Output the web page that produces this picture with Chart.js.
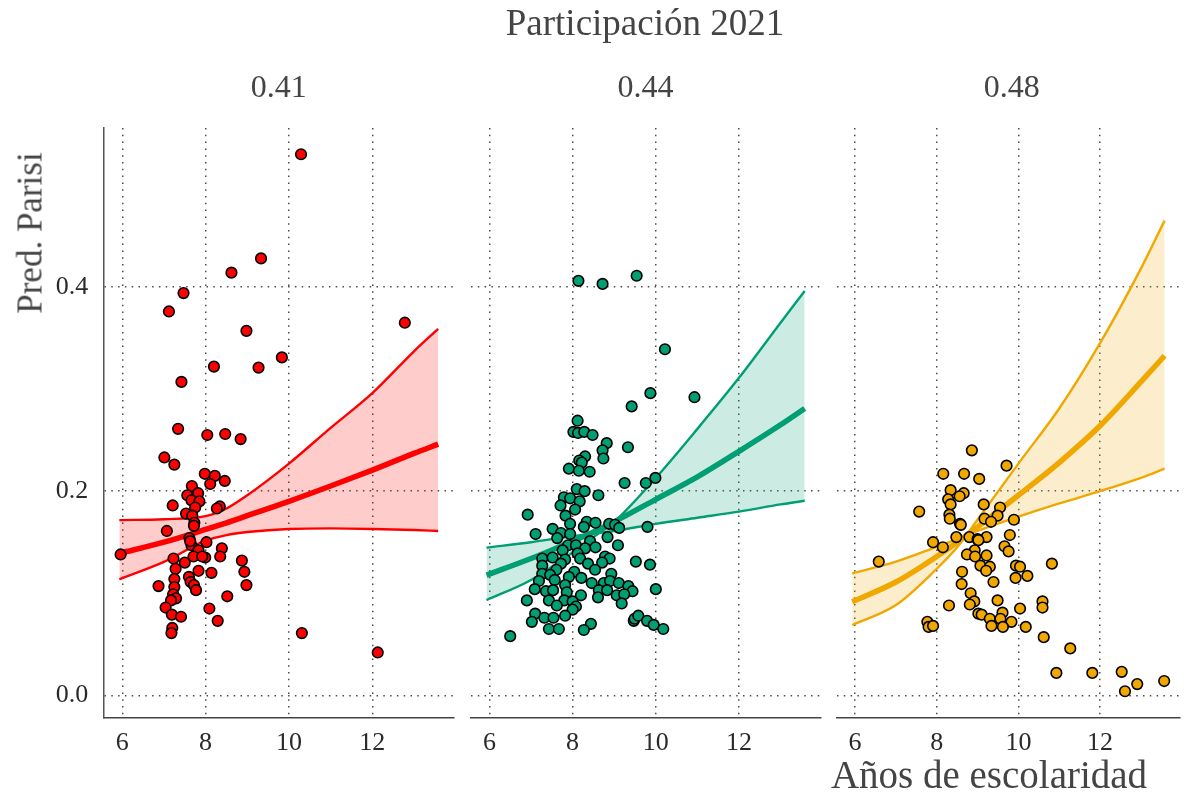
<!DOCTYPE html>
<html>
<head>
<meta charset="utf-8">
<script src="https://cdn.jsdelivr.net/npm/chart.js@4"></script>
<style>
  body { margin: 0; background: #fff; }
  #wrap { position: relative; width: 1187px; height: 795px; font-family: "Liberation Serif", serif; }
  #wrap canvas { position: absolute; left: 0; top: 0; }
  .lbl { position: absolute; line-height: 1; white-space: nowrap; color: #444; }
</style>
</head>
<body>
<div id="wrap">
  <canvas id="c0" width="1187" height="795"></canvas>
  <canvas id="c1" width="1187" height="795"></canvas>
  <canvas id="c2" width="1187" height="795"></canvas>
  <div class="lbl" style="left:645px; top:4px; font-size:37px; transform:translateX(-50%)">Participación 2021</div>
  <div class="lbl" style="left:30px; top:233px; font-size:35px; transform:translate(-50%,-50%) rotate(-90deg)">Pred. Parisi</div>
  <div class="lbl" style="left:989px; top:755px; font-size:39px; transform:translateX(-50%)">Años de escolaridad</div>
</div>
<script>
// axes
const xTicks = [6, 8, 10, 12];
const yTicks = [0, 0.2, 0.4];
const xMin = 5.545, xMax = 13.96;
const yMin = -0.0219, yMax = 0.5557;

const facetLabels = ['0.41', '0.44', '0.48'];
const facetColors = ['#FF0000', '#009E73', '#F0A800'];

// predicted curves, sampled at curveX
const curveX = [5.93, 7, 8, 8.5, 9, 10, 11, 12, 13, 13.58];

const fit41 = [0.139, 0.150, 0.1625, 0.169, 0.176, 0.190, 0.205, 0.2206, 0.237, 0.246];
const bandA41 = [0.1716, 0.1725, 0.1755, 0.183, 0.196, 0.227, 0.262, 0.296, 0.337, 0.359];
const bandB41 = [0.1137, 0.1307, 0.1515, 0.157, 0.160, 0.163, 0.1635, 0.163, 0.162, 0.161];

const fit44 = [0.1178, 0.134, 0.151, 0.160, 0.170, 0.192, 0.214, 0.239, 0.265, 0.281];
const bandA44 = [0.1446, 0.150, 0.156, 0.1585, 0.161, 0.168, 0.174, 0.180, 0.187, 0.1906];
const bandB44 = [0.0933, 0.113, 0.140, 0.155, 0.170, 0.213, 0.261, 0.311, 0.365, 0.396];

const fit48 = [0.0917, 0.111, 0.136, 0.150, 0.165, 0.196, 0.228, 0.264, 0.307, 0.3326];
const bandA48 = [0.1195, 0.131, 0.1455, 0.153, 0.161, 0.175, 0.188, 0.200, 0.213, 0.222];
const bandB48 = [0.0689, 0.0884, 0.124, 0.145, 0.172, 0.227, 0.281, 0.345, 0.418, 0.465];

// observed municipalities
const esc41 = [10.29, 9.33, 8.62, 7.47, 7.12, 12.78, 8.98, 9.83, 8.20, 9.27, 7.42, 7.34, 8.47, 8.04, 8.84,
  7.01, 7.25, 7.98, 8.22, 8.46, 8.11, 7.67, 7.82, 7.56, 7.66, 7.85, 7.21, 8.34, 8.27, 7.75, 7.53, 7.68,
  7.73, 7.72, 7.07, 7.61, 7.66, 8.02, 7.63, 7.83, 5.96, 8.39, 8.35, 7.71, 7.99, 7.92, 7.23, 7.50, 8.87,
  7.28, 7.83, 8.14, 8.93, 7.25, 7.60, 7.64, 7.72, 8.98, 6.87, 7.25, 7.77, 7.22, 7.29, 7.17, 8.52, 7.04,
  7.19, 7.41, 8.09, 8.29, 7.20, 7.18, 10.31, 12.13];
const pred41 = [0.530, 0.428, 0.414, 0.394, 0.376, 0.365, 0.357, 0.331, 0.322, 0.321, 0.307, 0.261, 0.256, 0.255, 0.251,
  0.233, 0.226, 0.217, 0.215, 0.210, 0.207, 0.205, 0.198, 0.196, 0.191, 0.190, 0.186, 0.185, 0.183, 0.184, 0.178, 0.176,
  0.169, 0.166, 0.161, 0.154, 0.147, 0.150, 0.151, 0.142, 0.138, 0.144, 0.136, 0.136, 0.135, 0.136, 0.134, 0.130, 0.132,
  0.124, 0.122, 0.120, 0.121, 0.114, 0.116, 0.111, 0.108, 0.108, 0.107, 0.106, 0.103, 0.099, 0.095, 0.093, 0.097, 0.086,
  0.079, 0.077, 0.085, 0.073, 0.066, 0.061, 0.061, 0.042];

const esc44 = [8.14, 8.72, 9.54, 10.22, 9.87, 10.93, 9.42, 8.12, 8.02, 8.13, 8.28, 8.48, 8.82, 8.72, 9.33,
  8.74, 8.30, 8.16, 8.22, 7.91, 8.15, 8.41, 9.25, 9.76, 9.99, 8.10, 8.29, 8.62, 7.79, 7.94, 8.17, 7.71,
  8.06, 7.83, 6.92, 7.94, 8.34, 8.55, 8.27, 8.88, 9.02, 9.12, 9.80, 7.52, 7.11, 7.72, 7.94, 7.63, 8.84,
  8.42, 7.89, 8.08, 8.55, 9.09, 8.30, 7.76, 8.12, 7.27, 7.52, 7.82, 8.78, 8.89, 8.18, 7.72, 7.27, 8.37,
  8.71, 9.52, 9.86, 7.61, 8.54, 8.04, 7.27, 7.46, 7.91, 8.21, 8.93, 7.19, 7.57, 8.46, 8.75, 8.90, 9.11,
  9.34, 7.82, 7.09, 7.36, 7.53, 7.86, 8.63, 8.83, 9.44, 10.00, 8.20, 9.06, 9.24, 8.61, 7.43, 7.80, 6.90,
  9.18, 8.00, 7.62, 8.08, 8.00, 7.82, 7.10, 7.32, 7.54, 7.02, 7.43, 7.67, 8.44, 8.27, 9.47, 9.49, 9.58,
  9.79, 9.95, 10.18, 6.50];
const pred44 = [0.406, 0.403, 0.411, 0.339, 0.296, 0.292, 0.283, 0.269, 0.258, 0.257, 0.258, 0.255, 0.247, 0.240, 0.243,
  0.232, 0.234, 0.230, 0.228, 0.222, 0.220, 0.219, 0.208, 0.208, 0.213, 0.202, 0.200, 0.196, 0.194, 0.193, 0.190, 0.186,
  0.182, 0.176, 0.177, 0.168, 0.170, 0.169, 0.165, 0.168, 0.167, 0.164, 0.165, 0.163, 0.158, 0.159, 0.158, 0.154, 0.155,
  0.151, 0.147, 0.147, 0.145, 0.147, 0.144, 0.142, 0.139, 0.134, 0.135, 0.133, 0.136, 0.134, 0.134, 0.129, 0.127, 0.129,
  0.130, 0.131, 0.128, 0.123, 0.123, 0.121, 0.119, 0.118, 0.116, 0.115, 0.119, 0.112, 0.113, 0.110, 0.110, 0.112, 0.110,
  0.107, 0.108, 0.104, 0.102, 0.103, 0.101, 0.103, 0.103, 0.102, 0.104, 0.098, 0.098, 0.099, 0.096, 0.093, 0.093, 0.093,
  0.090, 0.092, 0.088, 0.087, 0.084, 0.078, 0.080, 0.076, 0.076, 0.072, 0.065, 0.065, 0.070, 0.064, 0.073, 0.075, 0.078,
  0.073, 0.069, 0.065, 0.058];

const esc48 = [8.86, 9.71, 8.16, 8.67, 9.04, 8.34, 8.66, 8.56, 8.28, 8.34, 9.15, 9.55, 7.57, 8.31, 8.32,
  9.49, 9.17, 9.33, 9.89, 8.57, 8.59, 9.79, 8.48, 8.80, 9.22, 9.00, 9.02, 7.91, 8.15, 9.66, 9.76, 8.93,
  6.58, 8.74, 8.94, 9.22, 10.82, 9.07, 9.30, 9.94, 10.04, 9.21, 8.62, 10.22, 9.93, 9.39, 8.61, 8.83, 8.92,
  9.49, 8.81, 10.59, 8.30, 10.59, 10.04, 9.02, 9.10, 9.61, 9.30, 9.56, 9.83, 7.77, 7.80, 7.91, 9.34, 9.62,
  10.18, 10.62, 11.27, 10.93, 11.81, 12.53, 12.61, 12.91, 13.57];
const pred48 = [0.240, 0.225, 0.217, 0.217, 0.212, 0.201, 0.198, 0.195, 0.192, 0.187, 0.187, 0.184, 0.180, 0.177, 0.173,
  0.176, 0.173, 0.170, 0.172, 0.168, 0.167, 0.157, 0.155, 0.155, 0.155, 0.153, 0.152, 0.150, 0.145, 0.146, 0.141, 0.142,
  0.131, 0.138, 0.136, 0.137, 0.129, 0.127, 0.126, 0.127, 0.126, 0.122, 0.121, 0.117, 0.115, 0.111, 0.109, 0.100, 0.092,
  0.093, 0.089, 0.092, 0.088, 0.086, 0.085, 0.080, 0.079, 0.081, 0.075, 0.075, 0.072, 0.072, 0.067, 0.068, 0.068, 0.067,
  0.067, 0.057, 0.046, 0.022, 0.022, 0.023, 0.004, 0.011, 0.014];

const panels = [
  { esc: esc41, pred: pred41, fit: fit41, bandA: bandA41, bandB: bandB41 },
  { esc: esc44, pred: pred44, fit: fit44, bandA: bandA44, bandB: bandB44 },
  { esc: esc48, pred: pred48, fit: fit48, bandA: bandA48, bandB: bandB48 }
];

// plot area of each facet, in page pixels
const panelLeft = [103.3, 470.5, 836.5];
const panelRight = [454, 820.5, 1187];
const panelTop = 128, panelBottom = 717.7, pageW = 1187, pageH = 795;

const serif = '"Liberation Serif", serif';
const gridColor = 'rgba(55,55,55,0.9)';

function toPoints(xs, ys) {
  return xs.map((x, i) => ({ x: x, y: ys[i] }));
}

function withAlpha(hex, a) {
  const n = parseInt(hex.slice(1), 16);
  return `rgba(${(n >> 16) & 255},${(n >> 8) & 255},${n & 255},${a})`;
}

function drawPanel(i) {
  const p = panels[i];
  const col = facetColors[i];
  const curve = {
    showLine: true, pointRadius: 0, borderColor: col,
    cubicInterpolationMode: 'monotone'
  };

  new Chart(document.getElementById('c' + i), {
    type: 'scatter',
    data: {
      datasets: [
        {
          data: toPoints(p.esc, p.pred), order: 0,
          pointRadius: 5.3, pointBackgroundColor: col,
          pointBorderColor: '#000', pointBorderWidth: 1.6
        },
        Object.assign({ data: toPoints(curveX, p.fit), borderWidth: 5.5, order: 1 }, curve),
        Object.assign({ data: toPoints(curveX, p.bandA), borderWidth: 2.4, order: 2 }, curve),
        Object.assign({
          data: toPoints(curveX, p.bandB), borderWidth: 2.4, order: 3,
          fill: '-1', backgroundColor: withAlpha(col, 0.2)
        }, curve)
      ]
    },
    options: {
      responsive: false,
      animation: false,
      events: [],
      layout: { padding: { left: 0, top: panelTop, right: pageW - panelRight[i], bottom: 0 } },
      plugins: { legend: { display: false }, tooltip: { enabled: false } },
      scales: {
        x: {
          type: 'linear', min: xMin, max: xMax,
          afterBuildTicks: s => { s.ticks = xTicks.map(v => ({ value: v })); },
          afterFit: s => { s.height = pageH - panelBottom; },
          grid: { color: gridColor, lineWidth: 1.5, drawTicks: false },
          border: { display: true, color: '#444', width: 1.5, dash: [1.5, 5.3] },
          ticks: { padding: 10, color: '#2a2a2a', font: { family: serif, size: 26 } }
        },
        y: {
          type: 'linear', min: yMin, max: yMax,
          afterBuildTicks: s => { s.ticks = yTicks.map(v => ({ value: v })); },
          afterFit: s => { s.width = panelLeft[i]; },
          grid: { color: gridColor, lineWidth: 1.5, drawTicks: false },
          border: { display: i === 0, color: '#555', width: 1.5, dash: [1.5, 5.3] },
          ticks: {
            display: i === 0, padding: 15, color: '#2a2a2a',
            font: { family: serif, size: 26 },
            callback: v => v.toFixed(1)
          }
        }
      }
    }
  });

  // facet strip label
  const lab = document.createElement('div');
  lab.className = 'lbl';
  lab.textContent = facetLabels[i];
  lab.style.fontSize = '32px';
  lab.style.left = ((panelLeft[i] + panelRight[i]) / 2) + 'px';
  lab.style.top = '70px';
  lab.style.transform = 'translateX(-50%)';
  document.getElementById('wrap').appendChild(lab);
}

panels.forEach((p, i) => drawPanel(i));
</script>
</body>
</html>
